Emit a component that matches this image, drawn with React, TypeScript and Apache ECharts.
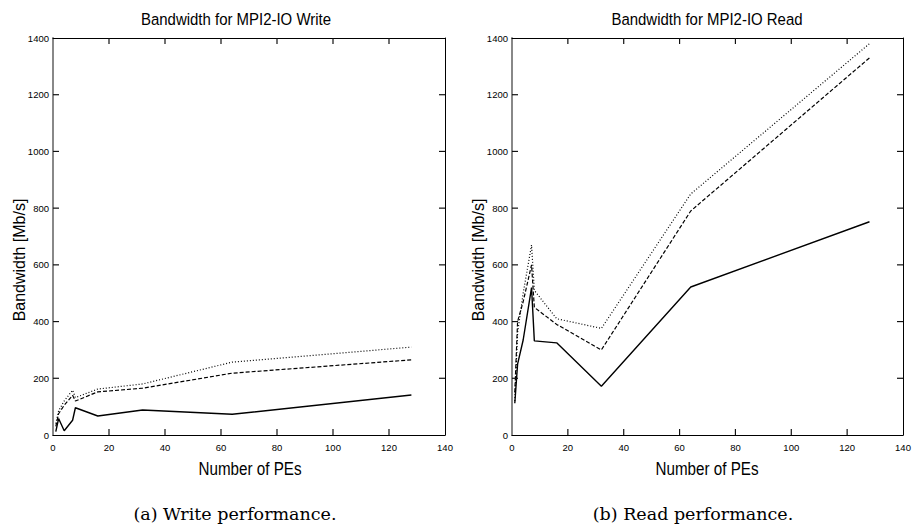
import React, { useEffect, useRef } from "react";
import * as echarts from "echarts";

const pes = [1, 2, 4, 7, 8, 16, 32, 64, 128];
const writeSolid = [12, 58, 15, 52, 96, 67, 88, 73, 141];
const writeDashed = [30, 75, 105, 140, 120, 152, 165, 218, 265];
const writeDotted = [40, 85, 120, 158, 132, 162, 180, 257, 310];
const readSolid = [112, 250, 335, 520, 332, 325, 172, 522, 752];
const readDashed = [150, 400, 470, 600, 450, 390, 300, 790, 1330];
const readDotted = [120, 360, 500, 670, 510, 410, 376, 850, 1380];

const xTicks = [20, 40, 60, 80, 100, 120];
const yTicks = [200, 400, 600, 800, 1000, 1200];
const X_MAX = 140;
const Y_MAX = 1400;

const titles = ["Bandwidth for MPI2-IO Write", "Bandwidth for MPI2-IO Read"];
const captions = ["(a) Write performance.", "(b) Read performance."];
const xName = "Number of PEs";
const yName = "Bandwidth [Mb/s]";

const SANS = "'Liberation Sans', Arial, sans-serif";

export default function App() {
  const ref = useRef<HTMLDivElement>(null);
  useEffect(() => {
    if (!ref.current) return;
    const chart = echarts.init(ref.current, null, { renderer: "svg" });
    const grids = [
      { left: 53, top: 38, width: 392, height: 397 },
      { left: 512, top: 38, width: 391, height: 397 },
    ];
    const xAxes: any[] = [];
    const yAxes: any[] = [];
    grids.forEach((_, i) => {
      xAxes.push({
        type: "value", gridIndex: i, min: 0, max: X_MAX, interval: 20,
        position: "bottom",
        axisLine: { show: true, onZero: false, lineStyle: { color: "#000", width: 1.2 } },
        axisTick: { show: false },
        axisLabel: { fontFamily: SANS, fontSize: 9.5, color: "#000", margin: 7 },
        splitLine: { show: false },
      });
      xAxes.push({
        type: "value", gridIndex: i, min: 0, max: X_MAX, interval: 20,
        position: "top",
        axisLine: { show: true, onZero: false, lineStyle: { color: "#000", width: 1 } },
        axisTick: { show: false },
        axisLabel: { show: false },
        splitLine: { show: false },
      });
      yAxes.push({
        type: "value", gridIndex: i, min: 0, max: Y_MAX, interval: 200,
        position: "left",
        axisLine: { show: true, onZero: false, lineStyle: { color: "#888", width: 2 } },
        axisTick: { show: false },
        axisLabel: { fontFamily: SANS, fontSize: 9.5, color: "#000", margin: 4, formatter: (v: number) => String(v) },
        splitLine: { show: false },
      });
      yAxes.push({
        type: "value", gridIndex: i, min: 0, max: Y_MAX, interval: 200,
        position: "right",
        axisLine: { show: true, onZero: false, lineStyle: { color: "#000", width: 1 } },
        axisTick: { show: false },
        axisLabel: { show: false },
        splitLine: { show: false },
      });
    });
    const mk = (vals: number[], gi: number, type: any, width: number) => ({
      type: "line",
      xAxisIndex: gi * 2,
      yAxisIndex: gi * 2,
      data: pes.map((p, k) => [p, vals[k]]),
      showSymbol: false,
      symbol: "none",
      lineStyle: { color: "#000", width, type },
    });
    // tick data: [x, y, dx, dy] where (dx, dy) is the inward direction in pixels
    const tickData: number[][] = [];
    xTicks.forEach((v) => { tickData.push([v, 0, 0, -6]); tickData.push([v, Y_MAX, 0, 6]); });
    yTicks.forEach((v) => { tickData.push([0, v, 6, 0]); tickData.push([X_MAX, v, -6, 0]); });
    const tickSeries = (gi: number) => ({
      type: "custom",
      xAxisIndex: gi * 2,
      yAxisIndex: gi * 2,
      data: tickData,
      silent: true,
      clip: false,
      z: 5,
      renderItem: (_params: any, api: any) => {
        const p = api.coord([api.value(0), api.value(1)]);
        const dx = api.value(2);
        const dy = api.value(3);
        return {
          type: "line",
          shape: { x1: p[0], y1: p[1], x2: p[0] + dx, y2: p[1] + dy },
          style: { stroke: "#111", lineWidth: 1.2 },
        };
      },
    });
    const series: any[] = [
      mk(writeSolid, 0, "solid", 1.4),
      mk(writeDashed, 0, [4, 2], 1.2),
      mk(writeDotted, 0, [1, 2], 1.2),
      mk(readSolid, 1, "solid", 1.4),
      mk(readDashed, 1, [4, 2], 1.2),
      mk(readDotted, 1, [1, 2], 1.2),
      tickSeries(0),
      tickSeries(1),
    ];
    const txt = (text: string, x: number, y: number, font: string, scaleX = 1, rotation = 0) => ({
      type: "text", x, y, scaleX, rotation,
      style: { text, font, fill: "#000", textAlign: "center", textVerticalAlign: "middle" },
    });
    chart.setOption({
      animation: false,
      backgroundColor: "#fff",
      grid: grids,
      xAxis: xAxes,
      yAxis: yAxes,
      series,
      graphic: [
        txt(titles[0], 236, 19, `17px ${SANS}`, 0.88),
        txt(titles[1], 707, 19, `17px ${SANS}`, 0.88),
        txt(xName, 250, 468, `19px ${SANS}`, 0.8),
        txt(xName, 707, 468, `19px ${SANS}`, 0.8),
        txt(yName, 19, 260, `16px ${SANS}`, 1, Math.PI / 2),
        txt(yName, 478, 260, `16px ${SANS}`, 1, Math.PI / 2),
        txt(captions[0], 235, 514, "17.5px 'DejaVu Serif', serif"),
        txt(captions[1], 693, 514, "17.5px 'DejaVu Serif', serif"),
      ],
    });
    return () => chart.dispose();
  }, []);
  return <div ref={ref} style={{ position: "fixed", left: 0, top: 0, width: 914, height: 529 }} />;
}
